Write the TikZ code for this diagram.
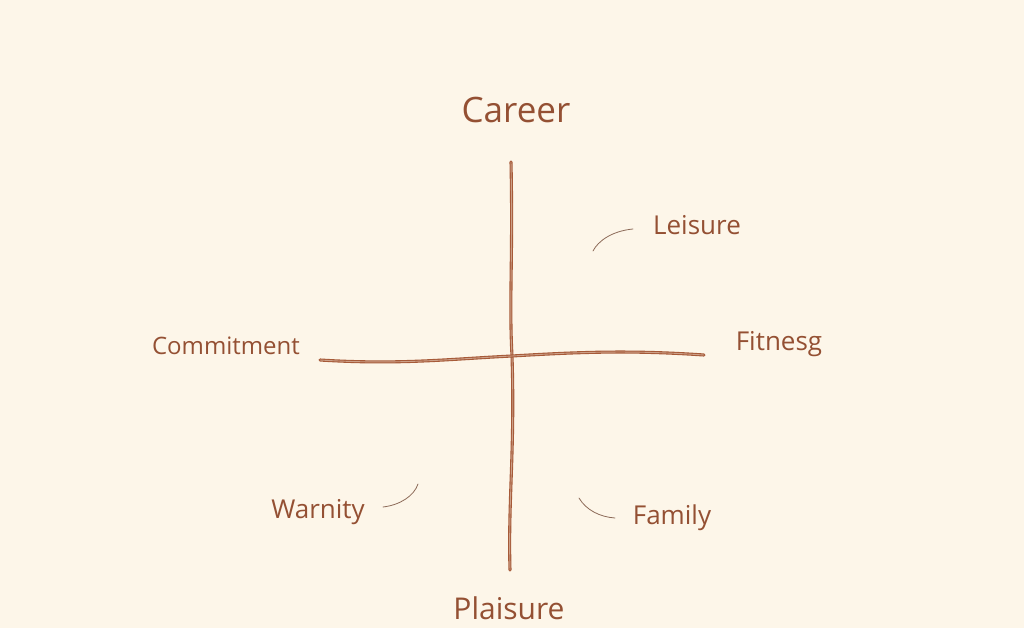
\documentclass[tikz,border=0pt]{standalone}
\usepackage{fontspec}
\setmainfont{Open Sans}
\definecolor{bgcol}{HTML}{FDF6E9}
\definecolor{inkcol}{HTML}{A65A38}
\definecolor{txtcol}{HTML}{945033}
\definecolor{thincol}{HTML}{8C6A58}
\begin{document}
\begin{tikzpicture}[x=1pt,y=-1pt,
  axisline/.style={draw=inkcol, line width=1.1pt, double=bgcol!45!inkcol, double distance=0.9pt, line cap=round},
  lbl/.style={text=txtcol, inner sep=0pt, anchor=center},
  tick/.style={draw=thincol, line width=0.8pt, line cap=round}]
\fill[bgcol] (0,0) rectangle (1024,628);
\useasboundingbox (0,0) rectangle (1024,628);

% axis end points
\coordinate (top) at (511,162);
\coordinate (bot) at (510,570);
\coordinate (lft) at (320,360);
\coordinate (rgt) at (704,355);
\coordinate (ctr) at (512,356);

\draw[axisline] (top) .. controls (513,260) and (509,300) .. (ctr) .. controls (515,450) and (508,500) .. (bot);
\draw[axisline] (lft) .. controls (400,365) and (450,359) .. (ctr) .. controls (580,352) and (630,350) .. (rgt);

% labels
\node[lbl, font=\fontsize{35}{40}\selectfont] (career) at (516,110) {Career};
\node[lbl, font=\fontsize{26}{30}\selectfont] (leisure) at (697,225) {Leisure};
\node[lbl, font=\fontsize{24}{28}\selectfont] (commit) at (226,346) {Commitment};
\node[lbl, font=\fontsize{26}{30}\selectfont] (fitness) at (779,344) {Fitnesg};
\node[lbl, font=\fontsize{26}{30}\selectfont] (warnity) at (318,512) {Warnity};
\node[lbl, font=\fontsize{26}{30}\selectfont] (family) at (672,518) {Family};
\node[lbl, font=\fontsize{30}{34}\selectfont] (plaisure) at (509,608) {Plaisure};

% small leader strokes
\coordinate (la) at (633,229);
\coordinate (lb) at (593,251);
\draw[tick] (la) .. controls (612,231) and (598,241) .. (lb);
\coordinate (wa) at (383,507);
\coordinate (wb) at (418,484);
\draw[tick] (wa) .. controls (400,505) and (414,496) .. (wb);
\coordinate (fa) at (579,498);
\coordinate (fb) at (615,518);
\draw[tick] (fa) .. controls (586,510) and (600,517) .. (fb);
\end{tikzpicture}
\end{document}
